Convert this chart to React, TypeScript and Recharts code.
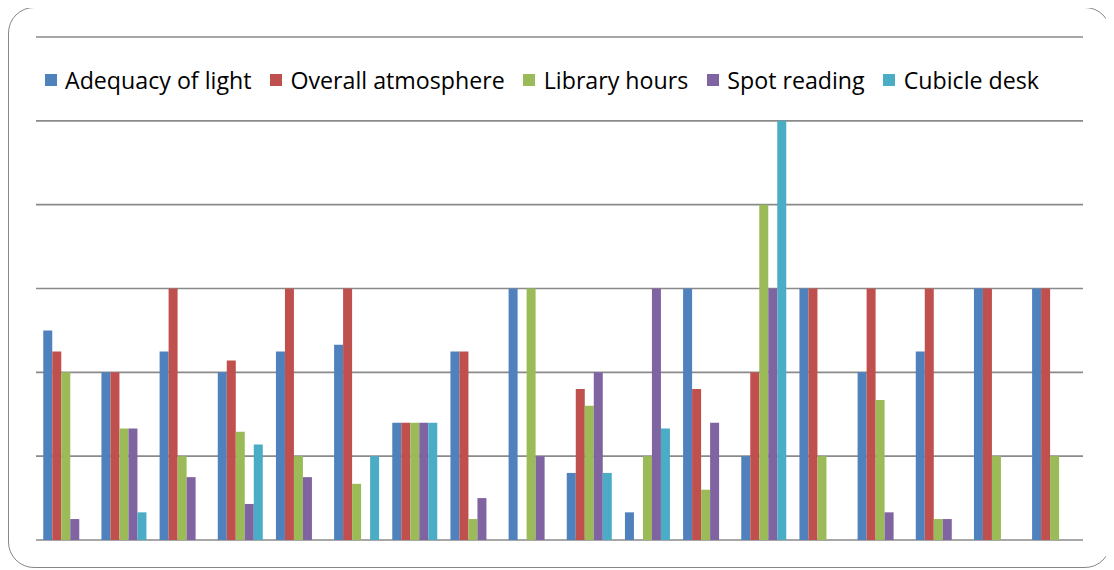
import { BarChart, Bar, XAxis, YAxis, CartesianGrid, Legend } from 'recharts';

const groups = ['1', '2', '3', '4', '5', '6', '7', '8', '9', '10', '11', '12', '13', '14', '15', '16', '17', '18'];
const adequacyOfLight = [2.5, 2, 2.25, 2, 2.25, 2.33, 1.4, 2.25, 3, 0.8, 0.33, 3, 1, 3, 2, 2.25, 3, 3];
const overallAtmosphere = [2.25, 2, 3, 2.14, 3, 3, 1.4, 2.25, 0, 1.8, 0, 1.8, 2, 3, 3, 3, 3, 3];
const libraryHours = [2, 1.33, 1, 1.29, 1, 0.67, 1.4, 0.25, 3, 1.6, 1, 0.6, 4, 1, 1.67, 0.25, 1, 1];
const spotReading = [0.25, 1.33, 0.75, 0.43, 0.75, 0, 1.4, 0.5, 1, 2, 3, 1.4, 3, 0, 0.33, 0.25, 0, 0];
const cubicleDesk = [0, 0.33, 0, 1.14, 0, 1, 1.4, 0, 0, 0.8, 1.33, 0, 5, 0, 0, 0, 0, 0];
const yTicks = [0, 1, 2, 3, 4, 5, 6];

const series = [
    { key: 'light', name: 'Adequacy of light', color: '#4F81BD', values: adequacyOfLight },
    { key: 'atmosphere', name: 'Overall atmosphere', color: '#C0504D', values: overallAtmosphere },
    { key: 'hours', name: 'Library hours', color: '#9BBB59', values: libraryHours },
    { key: 'spot', name: 'Spot reading', color: '#8064A2', values: spotReading },
    { key: 'cubicle', name: 'Cubicle desk', color: '#4BACC6', values: cubicleDesk },
];

const data = groups.map((g, i) => {
    const row: Record<string, string | number> = { group: g };
    series.forEach((s) => { row[s.key] = s.values[i]; });
    return row;
});

const font = '"Open Sans", sans-serif';

function LegendRow() {
    return (
        <div style={{ display: 'flex', alignItems: 'center', fontFamily: font, fontSize: 23.2, color: '#000', whiteSpace: 'nowrap' }}>
            {series.map((s) => (
                <div key={s.key} style={{ display: 'flex', alignItems: 'center', marginRight: 18.5 }}>
                    <span style={{ display: 'inline-block', width: 12, height: 12, background: s.color, marginRight: 8.5 }} />
                    <span>{s.name}</span>
                </div>
            ))}
        </div>
    );
}

export default function App() {
    return (
        <div style={{ width: 1101, height: 559, border: '1.5px solid #878787', borderRadius: 26, background: '#fff', marginLeft: -0.5, marginTop: -1 }}>
            <BarChart
                width={1101}
                height={559}
                data={data}
                margin={{ top: 29, right: 27, bottom: 27, left: 27 }}
                barCategoryGap="12.5%"
                barGap={0}
            >
                <CartesianGrid vertical={false} stroke="#8a8a8a" strokeWidth={1.6} />
                <XAxis dataKey="group" hide />
                <YAxis hide domain={[0, 6]} ticks={yTicks} />
                <Legend
                    verticalAlign="middle"
                    align="center"
                    layout="horizontal"
                    content={() => <LegendRow />}
                    wrapperStyle={{ top: 56, left: 36, width: 1060 }}
                />
                {series.map((s) => (
                    <Bar key={s.key} dataKey={s.key} name={s.name} fill={s.color} isAnimationActive={false} />
                ))}
            </BarChart>
        </div>
    );
}
